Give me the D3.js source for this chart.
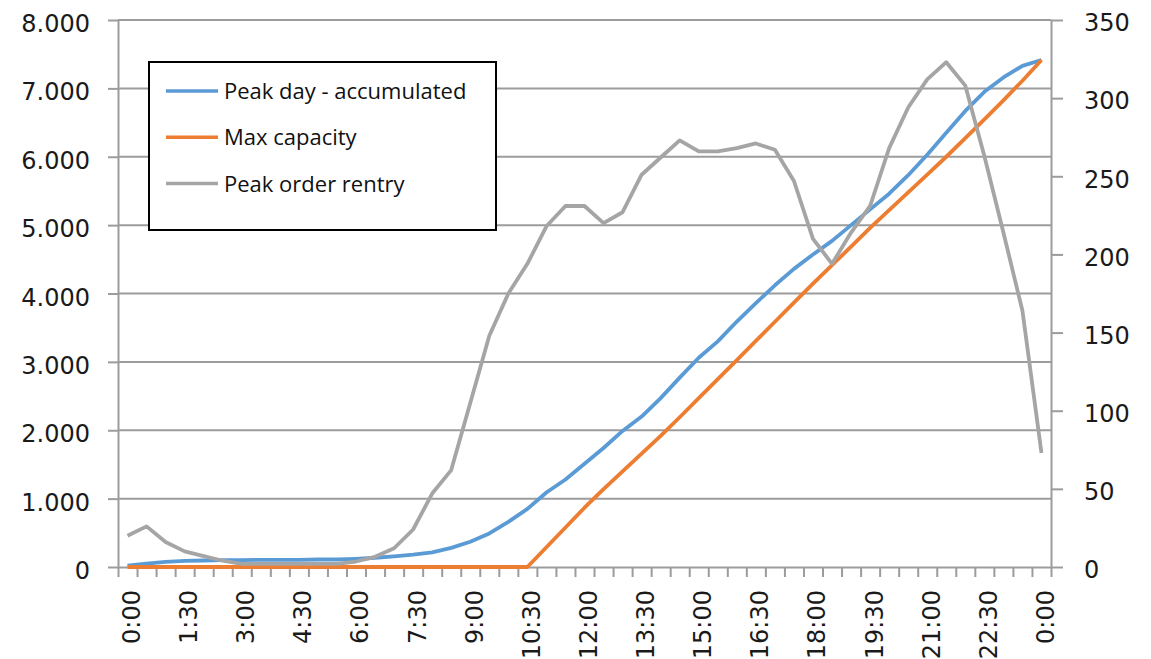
<!DOCTYPE html>
<html>
<head>
<meta charset="utf-8">
<script src="https://cdn.jsdelivr.net/npm/d3@7"></script>
<style>
	body { margin: 0; background: #fff; }
	svg { display: block; }
	.axis text { font-family: "DejaVu Sans", sans-serif; font-size: 24px; fill: #1a1a1a; }
	.axis path, .axis line { stroke: #9c9c9c; stroke-width: 2px; }
	.grid line { stroke: #9c9c9c; stroke-width: 2px; }
	.legend text { font-family: "Open Sans", sans-serif; font-size: 22px; fill: #111; }
</style>
</head>
<body>
<script>
// half-hour slots, 0:00 .. 0:00 next day
var times = [
	"0:00", "0:30", "1:00", "1:30", "2:00", "2:30", "3:00", "3:30", "4:00", "4:30",
	"5:00", "5:30", "6:00", "6:30", "7:00", "7:30", "8:00", "8:30", "9:00", "9:30",
	"10:00", "10:30", "11:00", "11:30", "12:00", "12:30", "13:00", "13:30", "14:00", "14:30",
	"15:00", "15:30", "16:00", "16:30", "17:00", "17:30", "18:00", "18:30", "19:00", "19:30",
	"20:00", "20:30", "21:00", "21:30", "22:00", "22:30", "23:00", "23:30", "0:00"
];

// left axis
var peakAccumulated = [
	20, 50, 75, 90, 95, 100, 100, 105, 105, 105,
	110, 110, 120, 135, 155, 180, 215, 280, 370, 490,
	660, 850, 1090, 1280, 1510, 1740, 1990, 2200, 2470, 2770,
	3060, 3300, 3590, 3860, 4120, 4360, 4570, 4770, 5000, 5230,
	5460, 5730, 6030, 6350, 6670, 6950, 7160, 7330, 7415
];
var maxCapacity = [
	0, 0, 0, 0, 0, 0, 0, 0, 0, 0,
	0, 0, 0, 0, 0, 0, 0, 0, 0, 0,
	0, 0, 289, 577, 867, 1139, 1399, 1658, 1917, 2190,
	2469, 2747, 3026, 3306, 3587, 3866, 4143, 4414, 4686, 4959,
	5219, 5478, 5737, 6000, 6272, 6548, 6825, 7111, 7415
];
// right axis
var peakOrderRentry = [
	20, 26, 16, 10, 7, 4, 2, 2, 2, 2,
	2, 2, 3.5, 6.5, 12, 24, 47, 62, 105, 148,
	175, 194, 218, 231, 231, 220, 227, 251, 262, 273,
	266, 266, 268, 271, 267, 247, 210, 194, 214, 231,
	268, 294, 312, 323, 308, 263, 214, 164, 73
];

var leftTicks = [0, 1000, 2000, 3000, 4000, 5000, 6000, 7000, 8000];
var rightTicks = [0, 50, 100, 150, 200, 250, 300, 350];

var series = [
	{name: "Peak day - accumulated", values: peakAccumulated, color: "#5b9bd5", axis: "left"},
	{name: "Max capacity", values: maxCapacity, color: "#ed7d31", axis: "left"},
	{name: "Peak order rentry", values: peakOrderRentry, color: "#a5a5a5", axis: "right"}
];

var width = 1151, height = 659;
var plotLeft = 118, plotRight = 1051, plotTop = 20, plotBottom = 567;

var svg = d3.select("body").append("svg")
	.attr("width", width)
	.attr("height", height);

var x = d3.scaleBand().domain(d3.range(times.length)).range([plotLeft, plotRight]);
var xEdge = d3.scaleLinear().domain([0, times.length]).range([plotLeft, plotRight]);
var yLeft = d3.scaleLinear().domain([0, 8000]).range([plotBottom, plotTop]);
var yRight = d3.scaleLinear().domain([0, 350]).range([plotBottom, plotTop]);

var fmt = function(d) { return d3.format(",")(d).replace(/,/g, "."); };

// gridlines
svg.append("g").attr("class", "grid")
	.selectAll("line")
	.data(leftTicks.slice(1))
	.enter().append("line")
	.attr("x1", plotLeft).attr("x2", plotRight)
	.attr("y1", function(d) { return yLeft(d); })
	.attr("y2", function(d) { return yLeft(d); });

// left axis
svg.append("g").attr("class", "axis")
	.attr("transform", "translate(" + plotLeft + ",0)")
	.call(d3.axisLeft(yLeft).tickValues(leftTicks).tickFormat(fmt).tickSize(10).tickPadding(18).tickSizeOuter(0))
	.selectAll("text").attr("dy", "0.48em");

// right axis
svg.append("g").attr("class", "axis")
	.attr("transform", "translate(" + plotRight + ",0)")
	.call(d3.axisRight(yRight).tickValues(rightTicks).tickSize(12).tickPadding(21).tickSizeOuter(0))
	.selectAll("text").attr("dy", "0.45em");

// bottom tick marks on category boundaries
svg.append("g").attr("class", "axis")
	.attr("transform", "translate(0," + plotBottom + ")")
	.call(d3.axisBottom(xEdge).tickValues(d3.range(times.length + 1)).tickFormat("").tickSize(10).tickSizeOuter(0));

// bottom labels, every 1:30
var labelAxis = svg.append("g").attr("class", "axis")
	.attr("transform", "translate(0," + plotBottom + ")")
	.call(d3.axisBottom(x)
		.tickValues(d3.range(0, times.length, 3))
		.tickFormat(function(i) { return times[i]; })
		.tickSize(0));
labelAxis.select(".domain").remove();
labelAxis.selectAll("text")
	.attr("transform", "translate(4,23) rotate(-90)")
	.attr("x", 0).attr("y", 0)
	.attr("dy", "0.35em")
	.style("text-anchor", "end");

// lines
var lines = svg.append("g");
series.forEach(function(s) {
	var yScale = s.axis === "left" ? yLeft : yRight;
	var line = d3.line()
		.x(function(d, i) { return x(i) + x.bandwidth() / 2; })
		.y(function(d) { return yScale(d); });
	lines.append("path")
		.datum(s.values)
		.attr("d", line)
		.attr("fill", "none")
		.attr("stroke", s.color)
		.attr("stroke-width", 3.8)
		.attr("stroke-linejoin", "round");
});

// legend
var legend = svg.append("g").attr("class", "legend");
legend.append("rect")
	.attr("x", 149).attr("y", 62)
	.attr("width", 347).attr("height", 168)
	.attr("fill", "#fff")
	.attr("stroke", "#000")
	.attr("stroke-width", 2);

var entries = legend.selectAll("g.entry")
	.data(series)
	.enter().append("g")
	.attr("class", "entry")
	.attr("transform", function(d, i) { return "translate(166," + (91 + i * 46.3) + ")"; });

entries.append("line")
	.attr("x1", 0).attr("x2", 52)
	.attr("stroke", function(d) { return d.color; })
	.attr("stroke-width", 3.5);

entries.append("text")
	.attr("x", 58)
	.attr("dy", "0.36em")
	.text(function(d) { return d.name; });
</script>
</body>
</html>
